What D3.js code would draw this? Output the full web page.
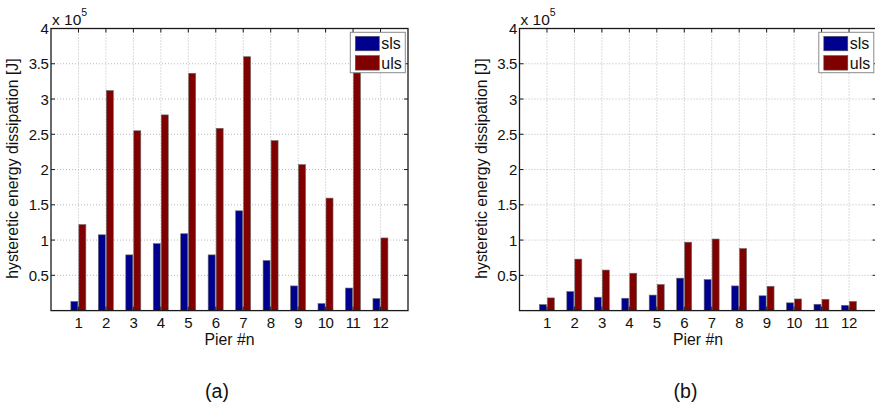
<!DOCTYPE html>
<html>
<head>
<meta charset="utf-8">
<script src="https://cdn.jsdelivr.net/npm/d3@7"></script>
<style>
  html, body { margin: 0; padding: 0; background: #fff; }
  svg { display: block; font-family: "Liberation Sans", Arial, Helvetica, sans-serif; }
</style>
</head>
<body>
<svg id="chart" width="875" height="403"></svg>
<script>
// Pier numbers along the x axis
const piers = [1, 2, 3, 4, 5, 6, 7, 8, 9, 10, 11, 12];
const seriesNames = ["sls", "uls"];
const seriesColors = ["#00008F", "#800000"];

// Hysteretic energy dissipation, in units of 1e5 J
const slsA = [0.13, 1.075, 0.79, 0.95, 1.09, 0.79, 1.415, 0.71, 0.35, 0.10, 0.32, 0.17];
const ulsA = [1.22, 3.12, 2.55, 2.775, 3.365, 2.585, 3.60, 2.41, 2.07, 1.595, 3.50, 1.03];
const slsB = [0.085, 0.27, 0.19, 0.175, 0.22, 0.46, 0.44, 0.35, 0.21, 0.11, 0.09, 0.075];
const ulsB = [0.18, 0.73, 0.575, 0.53, 0.37, 0.97, 1.015, 0.88, 0.345, 0.165, 0.16, 0.13];

const yTicks = [0.5, 1, 1.5, 2, 2.5, 3, 3.5, 4];
const yTickLabels = ["0.5", "1", "1.5", "2", "2.5", "3", "3.5", "4"];

const panels = [
  { left: 51, tag: "(a)", sls: slsA, uls: ulsA },
  { left: 519.5, tag: "(b)", sls: slsB, uls: ulsB }
];

(function draw() {
  const svg = d3.select("#chart");
  const plotW = 357, plotTop = 28.5, plotBottom = 310.6;
  const tickLen = 4;

  panels.forEach(p => {
    const x0 = p.left, x1 = p.left + plotW;
    const x = d3.scaleLinear().domain([0, 13]).range([x0, x1]);
    const y = d3.scaleLinear().domain([0, 4]).range([plotBottom, plotTop]);
    const g = svg.append("g");

    // dotted grid
    g.selectAll(".gx").data(piers).enter().append("line")
      .attr("x1", d => x(d)).attr("x2", d => x(d))
      .attr("y1", plotTop).attr("y2", plotBottom)
      .attr("stroke", "#b8b8b8").attr("stroke-width", 1)
      .attr("stroke-dasharray", "1,2");
    g.selectAll(".gy").data(yTicks.slice(0, -1)).enter().append("line")
      .attr("x1", x0).attr("x2", x1)
      .attr("y1", d => y(d)).attr("y2", d => y(d))
      .attr("stroke", "#b8b8b8").attr("stroke-width", 1)
      .attr("stroke-dasharray", "1,2");

    // grouped bars
    const barW = x(0.255) - x(0);
    const series = [p.sls, p.uls];
    series.forEach((vals, si) => {
      g.selectAll(".bar" + si).data(vals).enter().append("rect")
        .attr("x", (d, i) => si === 0 ? x(piers[i]) - barW - 0.6 : x(piers[i]) + 0.4)
        .attr("width", barW)
        .attr("y", d => y(d))
        .attr("height", d => y(0) - y(d))
        .attr("fill", seriesColors[si])
        .attr("stroke", "#6a6a6a").attr("stroke-width", 0.6);
    });

    // axes box
    g.append("rect")
      .attr("x", x0).attr("y", plotTop).attr("width", plotW).attr("height", plotBottom - plotTop)
      .attr("fill", "none").attr("stroke", "#1a1a1a").attr("stroke-width", 1.3);

    // inward ticks on all four sides
    piers.forEach(d => {
      g.append("line").attr("x1", x(d)).attr("x2", x(d)).attr("y1", plotBottom).attr("y2", plotBottom - tickLen)
        .attr("stroke", "#1a1a1a");
      g.append("line").attr("x1", x(d)).attr("x2", x(d)).attr("y1", plotTop).attr("y2", plotTop + tickLen)
        .attr("stroke", "#1a1a1a");
    });
    yTicks.forEach(d => {
      g.append("line").attr("x1", x0).attr("x2", x0 + tickLen).attr("y1", y(d)).attr("y2", y(d))
        .attr("stroke", "#1a1a1a");
      g.append("line").attr("x1", x1).attr("x2", x1 - tickLen).attr("y1", y(d)).attr("y2", y(d))
        .attr("stroke", "#1a1a1a");
    });

    // tick labels
    g.selectAll(".yl").data(yTicks).enter().append("text")
      .attr("x", x0 - 2.5).attr("y", d => y(d) + 5.5)
      .attr("text-anchor", "end").attr("font-size", 15).attr("letter-spacing", -0.4)
      .attr("fill", "#111")
      .text((d, i) => yTickLabels[i]);
    g.selectAll(".xl").data(piers).enter().append("text")
      .attr("x", d => x(d)).attr("y", 328)
      .attr("text-anchor", "middle").attr("font-size", 15).attr("letter-spacing", -0.4)
      .attr("fill", "#111")
      .text(d => d);

    // exponent marker
    const ex = g.append("text").attr("x", x0 + 1).attr("y", 24.5).attr("font-size", 15.5).attr("fill", "#111");
    ex.append("tspan").text("x 10");
    ex.append("tspan").attr("dy", -9).attr("font-size", 10.5).text("5");

    // axis titles
    g.append("text")
      .attr("x", (x0 + x1) / 2).attr("y", 344.5)
      .attr("text-anchor", "middle").attr("font-size", 15.8).attr("fill", "#111")
      .text("Pier #n");
    g.append("text")
      .attr("transform", `translate(${x0 - 33},${(plotTop + plotBottom) / 2 - 1}) rotate(-90)`)
      .attr("text-anchor", "middle").attr("font-size", 15.8).attr("fill", "#111")
      .text("hysteretic energy dissipation [J]");

    // legend
    const lx = x1 - 57.7, ly = 32.3;
    const lg = g.append("g");
    lg.append("rect").attr("x", lx).attr("y", ly).attr("width", 55).attr("height", 40.4)
      .attr("fill", "#fff").attr("stroke", "#8a8a8a").attr("stroke-width", 1);
    seriesNames.forEach((name, i) => {
      lg.append("rect").attr("x", lx + 5).attr("y", ly + 4 + i * 19.3).attr("width", 24).attr("height", 14.5)
        .attr("fill", seriesColors[i]).attr("stroke", "#555").attr("stroke-width", 0.6);
      lg.append("text").attr("x", lx + 31).attr("y", ly + 17 + i * 19.3)
        .attr("font-size", 16).attr("fill", "#111").text(name);
    });

    // panel tag
    g.append("text")
      .attr("x", (x0 + x1) / 2 - 12.5).attr("y", 398)
      .attr("text-anchor", "middle").attr("font-size", 19.5).attr("fill", "#111")
      .text(p.tag);
  });
})();
</script>
</body>
</html>
